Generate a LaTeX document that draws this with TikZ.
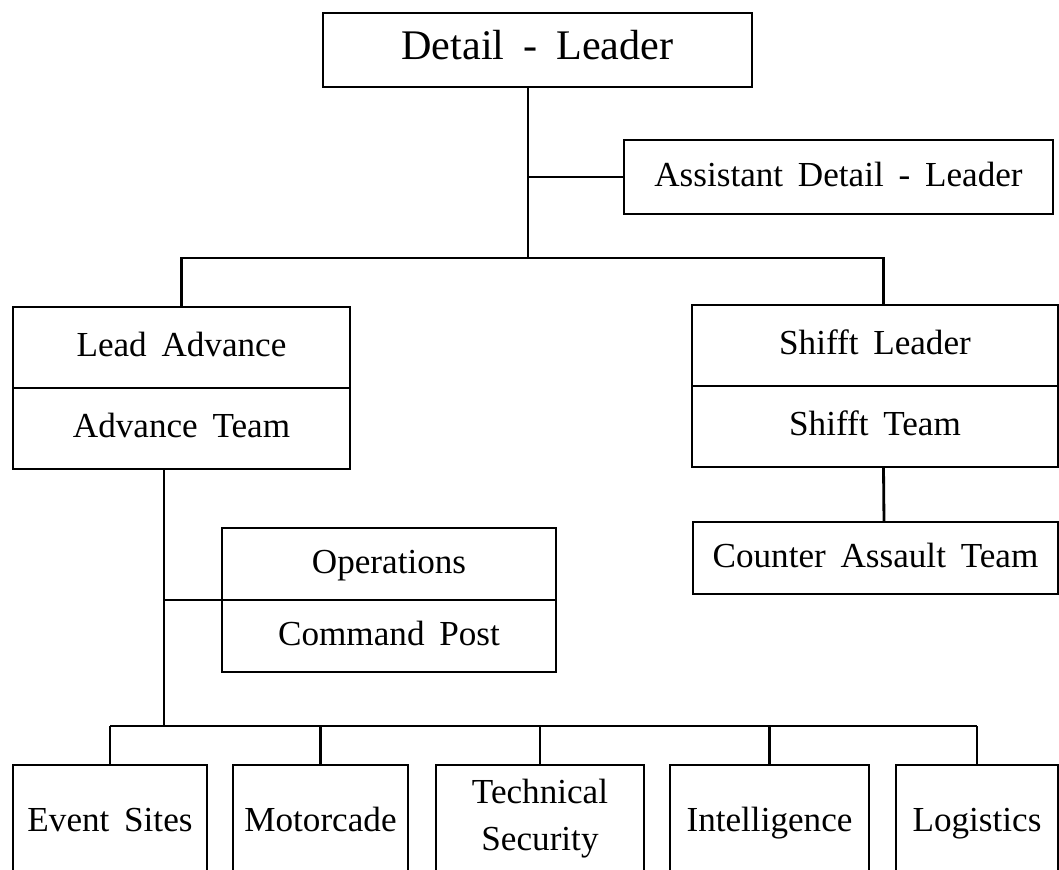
\documentclass[tikz,border=0pt]{standalone}
\usepackage{fontspec}
\setmainfont{Liberation Serif}
\usepackage{tikz}
\usetikzlibrary{positioning}

\newcommand{\widesp}[1]{\spaceskip=#1em plus .1em\relax}

\begin{document}
\begin{tikzpicture}[
    box/.style={draw, line width=1pt, inner sep=2pt, outer sep=0pt, align=center,
        execute at begin node=\strut, execute at end node=\strut,
        font=\fontsize{20}{27}\selectfont\widesp{.42}},
    link/.style={line width=1.6pt}
]
    \useasboundingbox (0,0) rectangle (21.18,17.4);
    \clip (0,0) rectangle (21.18,17.4);

    % Top
    \node[box, minimum width=8.58cm, minimum height=1.48cm,
        font=\fontsize{24}{28}\selectfont\widesp{.45}] (leader) at (10.75,16.4) {Detail - Leader};
    \node[box, minimum width=8.58cm, minimum height=1.48cm] (assistant) at (16.77,13.86) {Assistant Detail - Leader};
    \coordinate (trunk) at (10.56,12.24);

    % Middle
    \node[box, minimum width=6.74cm, minimum height=1.62cm] (leadadv) at (3.63,10.45) {Lead Advance};
    \node[box, minimum width=6.74cm, minimum height=1.62cm, below=0pt of leadadv] (advteam) {Advance Team};
    \node[box, minimum width=7.32cm, minimum height=1.62cm] (shifftldr) at (17.5,10.49) {Shifft Leader};
    \node[box, minimum width=7.32cm, minimum height=1.62cm, below=0pt of shifftldr] (shifftteam) {Shifft Team};
    \node[box, minimum width=7.3cm, minimum height=1.44cm] (cat) at (17.51,6.24) {Counter Assault Team};
    \node[box, minimum width=6.68cm, minimum height=1.44cm] (ops) at (7.78,6.12) {Operations};
    \node[box, minimum width=6.68cm, minimum height=1.44cm, below=0pt of ops] (cmdpost) {Command Post};
    \coordinate (advdrop) at (3.28,2.88);

    % Bottom
    \node[box, minimum width=3.88cm, minimum height=2.28cm] (events) at (2.2,0.96) {Event Sites};
    \node[box, minimum width=3.5cm, minimum height=2.28cm] (motorcade) at (6.41,0.96) {Motorcade};
    \node[box, minimum width=4.16cm, minimum height=2.28cm] (techsec) at (10.8,0.96) {Technical\\Security};
    \node[box, minimum width=3.98cm, minimum height=2.28cm] (intel) at (15.39,0.96) {Intelligence};
    \node[box, minimum width=3.24cm, minimum height=2.28cm] (logistics) at (19.54,0.96) {Logistics};

    % Lines
    \draw[link] (leader.south -| trunk) -- (trunk);
    \draw[link] (assistant.west -| trunk) -- (assistant.west);
    \draw[link] (leadadv.north) |- (trunk) -| ([xshift=0.17cm]shifftldr.north);
    \draw[link] ([xshift=0.17cm]shifftteam.south) -- ([xshift=0.17cm]cat.north);
    \draw[link] (advteam.south -| advdrop) -- (advdrop);
    \draw[link] (ops.south west -| advdrop) -- (ops.south west);
    \draw[link] (events.north |- advdrop) -- (logistics.north |- advdrop);
    \foreach \n in {events, motorcade, techsec, intel, logistics}
        \draw[link] (\n.north) -- (\n.north |- advdrop);
\end{tikzpicture}
\end{document}
